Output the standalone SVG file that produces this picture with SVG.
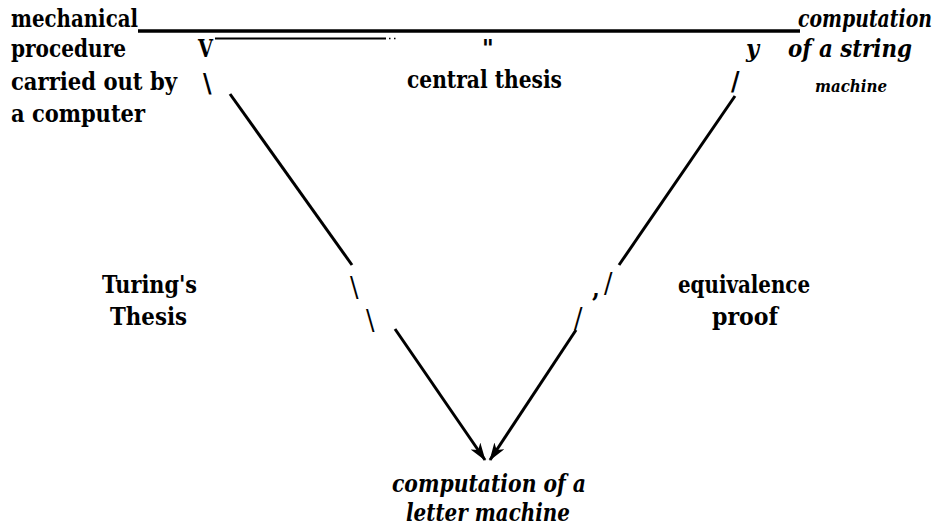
<svg xmlns="http://www.w3.org/2000/svg" width="940" height="526" viewBox="0 0 940 526">
<style>
text{font-family:'DejaVu Serif','Liberation Serif',serif;fill:#000;font-stretch:condensed}
.b{font-weight:bold;font-size:25px}
.bi{font-weight:bold;font-style:italic;font-size:25px}
.sm{font-size:16px}
.g{font-weight:bold;font-size:26px}
.gt{font-weight:normal;font-size:28px}
.ln{stroke:#000;fill:none;stroke-linecap:butt}
</style>
<defs>
<marker id="ah" viewBox="0 0 18 12" refX="17" refY="6" markerWidth="18" markerHeight="12" orient="auto" markerUnits="userSpaceOnUse">
<path d="M0,0 L18,6 L0,12 L5,6 z" fill="#000"/>
</marker>
</defs>
<rect width="940" height="526" fill="#fff"/>

<g id="connectors">
<line class="ln" x1="138" y1="31" x2="800" y2="31" stroke-width="3.5"/>
<line class="ln" x1="215" y1="38.5" x2="386" y2="38.5" stroke-width="1.8"/>
<line class="ln" x1="389" y1="38.5" x2="390.5" y2="38.5" stroke-width="1.5"/>
<line class="ln" x1="394" y1="38.5" x2="395.5" y2="38.5" stroke-width="1.5"/>
<line class="ln" x1="230" y1="94" x2="352" y2="265" stroke-width="3"/>
<path class="ln" d="M395,329 L485,460" stroke-width="3" marker-end="url(#ah)"/>
<line class="ln" x1="735" y1="96" x2="619" y2="265" stroke-width="3"/>
<path class="ln" d="M576,330 L490,460" stroke-width="3" marker-end="url(#ah)"/>
<text class="g" x="203" y="92">\</text>
<text class="gt" x="350" y="297">\</text>
<text class="gt" x="366" y="330">\</text>
<text class="g" x="731" y="90">/</text>
<text class="gt" x="604" y="293">/</text>
<text class="b" x="592" y="297">,</text>
<text class="gt" x="574" y="328">/</text>
<text class="b" x="198" y="57" textLength="15" lengthAdjust="spacingAndGlyphs">V</text>
<text class="b" x="482" y="57">"</text>
</g>

<g id="node-mechanical">
<text class="b" x="11" y="27" textLength="127" lengthAdjust="spacingAndGlyphs">mechanical</text>
<text class="b" x="11" y="57" textLength="115" lengthAdjust="spacingAndGlyphs">procedure</text>
<text class="b" x="11" y="90" textLength="166" lengthAdjust="spacingAndGlyphs">carried out by</text>
<text class="b" x="11" y="122" textLength="134" lengthAdjust="spacingAndGlyphs">a computer</text>
</g>

<g id="node-string">
<text class="bi" x="932" y="27" text-anchor="end" textLength="134" lengthAdjust="spacingAndGlyphs">computation</text>
<text class="bi" x="746" y="57">y</text>
<text class="bi" x="788" y="57" textLength="124" lengthAdjust="spacingAndGlyphs">of a  string</text>
<text class="bi sm" x="815" y="92" textLength="72" lengthAdjust="spacingAndGlyphs">machine</text>
</g>

<g id="node-central">
<text class="b" x="407" y="88" textLength="155" lengthAdjust="spacingAndGlyphs">central  thesis</text>
</g>

<g id="node-turing">
<text class="b" x="102" y="293" textLength="95" lengthAdjust="spacingAndGlyphs">Turing's</text>
<text class="b" x="110" y="325" textLength="77" lengthAdjust="spacingAndGlyphs">Thesis</text>
</g>

<g id="node-equivalence">
<text class="b" x="678" y="293" textLength="132" lengthAdjust="spacingAndGlyphs">equivalence</text>
<text class="b" x="712" y="325" textLength="66" lengthAdjust="spacingAndGlyphs">proof</text>
</g>

<g id="node-letter">
<text class="bi" x="392" y="492" textLength="194" lengthAdjust="spacingAndGlyphs">computation  of a</text>
<text class="bi" x="406" y="521" textLength="164" lengthAdjust="spacingAndGlyphs">letter  machine</text>
</g>
</svg>
